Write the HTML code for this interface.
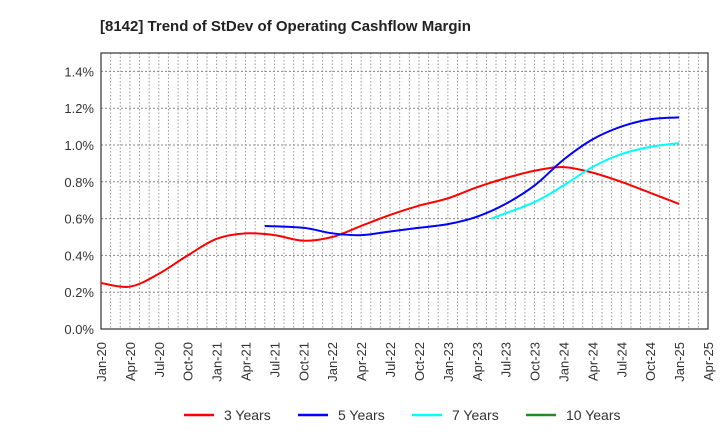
<!DOCTYPE html>
<html><head><meta charset="utf-8"><style>
body{margin:0;background:#fff;font-family:"Liberation Sans",sans-serif}
</style></head><body>
<svg id="c" width="720" height="440" xmlns="http://www.w3.org/2000/svg">
<text x="100" y="31" font-size="15" font-weight="bold" fill="#222">[8142]  Trend of StDev of Operating Cashflow Margin</text>
<g id="grid"></g><g id="axes"></g><g id="series"></g><g id="legend"></g>
</svg>
<script>
const xLabels=["Jan-20","Apr-20","Jul-20","Oct-20","Jan-21","Apr-21","Jul-21","Oct-21","Jan-22","Apr-22","Jul-22","Oct-22","Jan-23","Apr-23","Jul-23","Oct-23","Jan-24","Apr-24","Jul-24","Oct-24","Jan-25","Apr-25"];
const yTicks=[0,0.2,0.4,0.6,0.8,1.0,1.2,1.4];
// month index from Jan-20
const m3=[0,3,6,9,12,15,18,21,24,27,30,33,36,39,42,45,48,51,54,57,60];
const v3=[0.25,0.23,0.30,0.40,0.49,0.52,0.51,0.48,0.50,0.56,0.62,0.67,0.71,0.77,0.82,0.86,0.88,0.85,0.80,0.74,0.68];
const m5=[17,21,24,27,30,33,36,39,42,45,48,51,54,57,60];
const v5=[0.56,0.55,0.52,0.51,0.53,0.55,0.57,0.61,0.68,0.78,0.92,1.03,1.10,1.14,1.15];
const m7=[40.5,45,48,51,54,57,60];
const v7=[0.60,0.69,0.78,0.88,0.95,0.99,1.01];
const m10=[];const v10=[];
const L=101,R=708,T=53,B=329,yMax=1.5,nM=63;
const X=m=>L+(R-L)*m/nM, Y=v=>B-(B-T)*v/yMax;
const NS="http://www.w3.org/2000/svg";
function el(t,a,p){const e=document.createElementNS(NS,t);for(const k in a)e.setAttribute(k,a[k]);document.getElementById(p).appendChild(e);return e;}
for(let m=1;m<nM;m++){const g=el('line',{x1:X(m),x2:X(m),y1:T,y2:B,stroke:'#999','stroke-dasharray':'1.5,2','stroke-width':1},'grid');

}
yTicks.forEach(v=>{if(v>0){const g=el('line',{x1:L,x2:R,y1:Y(v),y2:Y(v),stroke:'#888','stroke-dasharray':'2,2'},'grid');

}
const t=el('text',{x:L-7,y:Y(v)+5,'text-anchor':'end','font-size':13,fill:'#333'},'axes');t.textContent=v.toFixed(1)+'%';

});
const box=el('rect',{x:L,y:T,width:R-L,height:B-T,fill:'none',stroke:'#333','stroke-width':1.2},'axes');


xLabels.forEach((s,i)=>{const x=X(i*3);const t=el('text',{transform:`translate(${x+5},${B+13}) rotate(-90)`,'text-anchor':'end','font-size':13,fill:'#333'},'axes');t.textContent=s;

});
function path(ms,vs){const p=ms.map((m,i)=>[X(m),Y(vs[i])]);if(!p.length)return'';let d=`M${p[0][0]},${p[0][1]}`;
for(let i=0;i<p.length-1;i++){const p0=p[i-1]||p[i],p1=p[i],p2=p[i+1],p3=p[i+2]||p2;
d+=` C${p1[0]+(p2[0]-p0[0])/6},${p1[1]+(p2[1]-p0[1])/6} ${p2[0]-(p3[0]-p1[0])/6},${p2[1]-(p3[1]-p1[1])/6} ${p2[0]},${p2[1]}`;}return d;}
const S=[[m3,v3,'#ff0000','3 Years','line-3-years'],[m5,v5,'#0000ff','5 Years','line-5-years'],[m7,v7,'#00ffff','7 Years','line-7-years'],[m10,v10,'#228b22','10 Years','line-10-years']];
S.forEach((s,i)=>{if(s[0].length){const p=el('path',{d:path(s[0],s[1]),fill:'none',stroke:s[2],'stroke-width':2},'series');

}
const lx=184+i*114;
const l=el('line',{x1:lx,x2:lx+30,y1:415,y2:415,stroke:s[2],'stroke-width':2.5},'legend');


const t=el('text',{x:lx+40,y:420,'font-size':14,fill:'#333'},'legend');t.textContent=s[3];

});
</script>
</body></html>
